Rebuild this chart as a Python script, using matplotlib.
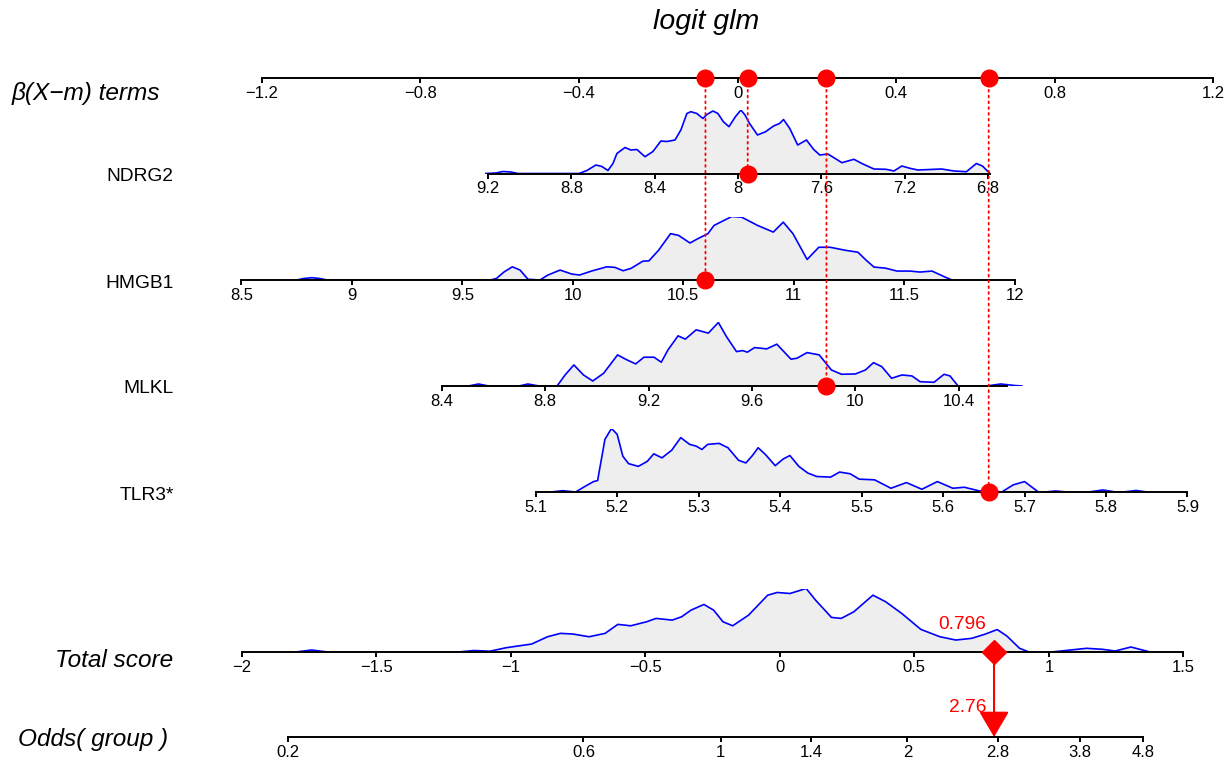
import numpy as np
import matplotlib
matplotlib.use("Agg")
import matplotlib.pyplot as plt
from matplotlib.patches import ConnectionPatch

plt.rcParams['font.family'] = ['Liberation Sans', 'DejaVu Sans']
plt.rcParams['axes.unicode_minus'] = True

# ---------------- data ----------------
title = "logit glm"
variables = ["NDRG2", "HMGB1", "MLKL", "TLR3*"]
coefs = [-0.5253, 0.5573, 0.6520, 2.0549]       # beta per unit
means = [8.002, 10.745, 9.5439, 5.3477]         # centring m
obs_values = [7.953, 10.6, 9.888, 5.656]        # observation shown
total_score = 0.796
odds_value = 2.76
intercept = 0.219

beta_ticks = [-1.2, -0.8, -0.4, 0, 0.4, 0.8, 1.2]
beta_ticklabels = ["\u22121.2", "\u22120.8", "\u22120.4", "0", "0.4", "0.8", "1.2"]

ndrg2_ticks = [9.2, 8.8, 8.4, 8.0, 7.6, 7.2, 6.8]
ndrg2_ticklabels = ["9.2", "8.8", "8.4", "8", "7.6", "7.2", "6.8"]
hmgb1_ticks = [8.5, 9, 9.5, 10, 10.5, 11, 11.5, 12]
hmgb1_ticklabels = ["8.5", "9", "9.5", "10", "10.5", "11", "11.5", "12"]
mlkl_ticks = [8.4, 8.8, 9.2, 9.6, 10.0, 10.4]
mlkl_ticklabels = ["8.4", "8.8", "9.2", "9.6", "10", "10.4"]
tlr3_ticks = [5.1, 5.2, 5.3, 5.4, 5.5, 5.6, 5.7, 5.8, 5.9]
tlr3_ticklabels = ["5.1", "5.2", "5.3", "5.4", "5.5", "5.6", "5.7", "5.8", "5.9"]

score_ticks = [-2, -1.5, -1, -0.5, 0, 0.5, 1, 1.5]
score_ticklabels = ["\u22122", "\u22121.5", "\u22121", "\u22120.5", "0", "0.5", "1", "1.5"]
odds_ticks = [0.2, 0.6, 1, 1.4, 2, 2.8, 3.8, 4.8]
odds_ticklabels = ["0.2", "0.6", "1", "1.4", "2", "2.8", "3.8", "4.8"]

axis_ranges = [(6.79, 9.2), (8.5, 12.0), (8.4, 10.586), (5.1, 5.9)]
beta_range = (-1.2, 1.2)
score_range = (-2, 1.5)
odds_range = (0.2, 4.8)

# densities (value, relative height)
ndrg2_dx = [9.21, 9.162, 9.128, 9.090, 9.056, 8.763, 8.725, 8.682, 8.653, 8.624, 8.600, 8.581,
            8.542, 8.514, 8.485, 8.446, 8.408, 8.370, 8.341, 8.302, 8.274, 8.245, 8.226, 8.197,
            8.168, 8.149, 8.120, 8.096, 8.070, 8.043, 8.012, 7.986, 7.966, 7.944, 7.906, 7.867,
            7.829, 7.800, 7.781, 7.751, 7.713, 7.671, 7.636, 7.607, 7.568, 7.539, 7.501, 7.443,
            7.405, 7.347, 7.289, 7.251, 7.213, 7.174, 7.136, 7.021, 6.963, 6.903, 6.855, 6.826, 6.790]
ndrg2_dy = [0, 0.5, 2, 1.5, 0, 0, 3, 8.5, 7, 3, 10, 20,
            26, 23.5, 24, 16.8, 22, 32.5, 32, 33.5, 43.5, 60, 61.8, 60,
            55, 59, 62.5, 60, 51.8, 46.8, 56.8, 63.5, 58.5, 50, 38.5, 41.8,
            47.5, 50, 54, 45, 28.5, 33.5, 24, 18.5, 19.5, 15.8, 10.8, 14.2,
            10, 4.5, 4.2, 2.5, 7.5, 5.2, 3.5, 4.5, 2.5, 1.8, 10, 7.5, 0]

hmgb1_dx = [8.751, 8.781, 8.819, 8.855, 8.887, 9.628, 9.655, 9.688, 9.726, 9.761, 9.797, 9.851,
            9.887, 9.942, 9.995, 10.030, 10.084, 10.154, 10.191, 10.227, 10.263, 10.317, 10.344,
            10.388, 10.442, 10.478, 10.530, 10.566, 10.611, 10.639, 10.719, 10.764, 10.836, 10.907,
            10.952, 10.996, 11.060, 11.113, 11.164, 11.232, 11.290, 11.327, 11.363, 11.413, 11.467,
            11.526, 11.571, 11.625, 11.684, 11.716]
hmgb1_dy = [0, 1.5, 2.3, 1.5, 0, 0, 1.7, 8, 13.3, 10, 0.7, 0,
            5, 10, 6, 5, 9, 13.3, 12.7, 9.3, 11.7, 19, 19.3,
            30, 46.7, 45, 37.3, 41.7, 46.7, 55, 64, 63.3, 55, 48.3,
            58.3, 46.7, 20.7, 33, 33, 30, 28, 20, 13, 12, 9,
            9, 8, 9, 3, 0]

mlkl_dx = [8.503, 8.542, 8.581, 8.699, 8.733, 8.776, 8.846, 8.877, 8.911, 8.948, 8.984, 9.026,
           9.080, 9.111, 9.150, 9.182, 9.221, 9.249, 9.275, 9.314, 9.342, 9.384, 9.431, 9.470,
           9.501, 9.540, 9.564, 9.582, 9.610, 9.657, 9.696, 9.751, 9.774, 9.813, 9.860, 9.907,
           9.946, 10.000, 10.039, 10.070, 10.102, 10.140, 10.180, 10.219, 10.250, 10.304, 10.343,
           10.366, 10.397, 10.507, 10.562, 10.616, 10.644]
mlkl_dy = [0, 2, 0, 0, 2, 0, 0, 11, 21, 11, 5, 12.7,
           31, 26.7, 22, 28.7, 28.7, 23.7, 36, 50, 46.7, 56, 52.7, 63.3,
           49.3, 34.3, 35.3, 33.7, 38.3, 37, 41.7, 26.7, 27.7, 33.3, 31, 16,
           11.7, 12, 16, 23.3, 19.3, 7.7, 11, 10, 4.3, 3.7, 11.7,
           10, 0, 0, 2, 0.5, 0]

tlr3_dx = [5.119, 5.133, 5.149, 5.160, 5.171, 5.176, 5.185, 5.193, 5.200, 5.207, 5.214, 5.226,
           5.237, 5.245, 5.255, 5.267, 5.278, 5.289, 5.297, 5.304, 5.311, 5.325, 5.336, 5.349,
           5.358, 5.366, 5.373, 5.382, 5.394, 5.404, 5.412, 5.423, 5.434, 5.445, 5.462, 5.473,
           5.486, 5.497, 5.516, 5.536, 5.555, 5.574, 5.593, 5.612, 5.626, 5.645, 5.653, 5.672,
           5.686, 5.700, 5.717, 5.725, 5.738, 5.752, 5.779, 5.796, 5.812, 5.821, 5.837, 5.850]
tlr3_dy = [0, 1.3, 0, 5.3, 10.3, 11.3, 52, 62.7, 57, 35.3, 28, 25.3,
           30.3, 37.7, 33.7, 41.3, 53.7, 47, 45.3, 42, 47, 48, 43.7, 31.3,
           28.7, 36, 43.7, 37, 26, 32.7, 36, 25.3, 18.7, 15.3, 14.7, 19.7,
           18, 12.7, 12, 3.7, 9.3, 2.7, 10.3, 3.7, 4.7, 1, 1.7, 0,
           7, 10.3, 0, 0, 1, 0, 0, 2, 0, 0, 1.5, 0]

score_dx = [-1.799, -1.740, -1.680, -1.195, -1.136, -1.077, -1.017, -0.922, -0.863, -0.815,
            -0.768, -0.709, -0.649, -0.602, -0.554, -0.495, -0.460, -0.400, -0.365, -0.330,
            -0.282, -0.246, -0.211, -0.175, -0.116, -0.045, -0.010, 0.038, 0.098, 0.133, 0.192,
            0.228, 0.275, 0.346, 0.394, 0.453, 0.524, 0.595, 0.654, 0.713, 0.761, 0.808, 0.844,
            0.891, 0.926, 1.008, 1.045, 1.140, 1.199, 1.246, 1.305, 1.376]
score_dy = [0, 2, 0, 0, 1.5, 0.8, 4.3, 8, 15.3, 18.7,
            18, 15.3, 18.7, 27.7, 26.3, 30.3, 33.7, 32, 35.3, 42,
            47.7, 42, 30.3, 26.3, 37, 57, 59.7, 58.7, 63.7, 52, 34.7,
            33.7, 40.3, 57, 50.3, 38.7, 22.7, 15.3, 12, 13.7, 17.7, 22.5, 16,
            3.7, 0, 0, 1, 3.7, 2.7, 1, 5, 0]

densities = [(ndrg2_dx, ndrg2_dy), (hmgb1_dx, hmgb1_dy), (mlkl_dx, mlkl_dy), (tlr3_dx, tlr3_dy)]
var_ticks = [(ndrg2_ticks, ndrg2_ticklabels), (hmgb1_ticks, hmgb1_ticklabels),
             (mlkl_ticks, mlkl_ticklabels), (tlr3_ticks, tlr3_ticklabels)]

# ---------------- layout (pixels) ----------------
FW, FH = 1228, 765
BETA0_PX, BETA_SCALE = 737.5, 396.5      # beta = 0 position, px per beta unit
SCORE0_PX, SCORE_SCALE = 779.8, 269.1    # total score = 0 position, px per unit
ROW_H = 63.5
y_beta = 78.3
y_vars = [173.5, 280.0, 386.0, 492.0]
y_score = 652.0
y_odds = 737.0

RED = '#FF0000'
BLUE = '#0000FF'
FILL = '#EEEEEE'
LW = 1.4
TICK_FS = 12
LABEL_FS = 17.6

fig = plt.figure(figsize=(FW / 100, FH / 100), dpi=100)


def row_axes(y_line, to_value):
    ax = fig.add_axes([0, 1 - y_line / FH, 1, ROW_H / FH])
    ax.set_xlim(to_value(0), to_value(FW))
    ax.set_ylim(0, 1)
    ax.patch.set_alpha(0)
    for s in ['top', 'left', 'right']:
        ax.spines[s].set_visible(False)
    ax.spines['bottom'].set_linewidth(LW)
    ax.tick_params(axis='x', direction='out', length=3.6, width=LW,
                   labelsize=TICK_FS, pad=2.0)
    ax.set_yticks([])
    return ax


def beta_to_value(px):
    return (px - BETA0_PX) / BETA_SCALE


def make_var_map(coef, m):
    return lambda px: m + (px - BETA0_PX) / (BETA_SCALE * coef)


def score_map(px):
    return (px - SCORE0_PX) / SCORE_SCALE


def draw_density(ax, dx, dy):
    dx = np.asarray(dx, float)
    dy = np.asarray(dy, float)
    h = dy / dy.max()
    ax.fill_between(dx, 0, h, color=FILL, lw=0, zorder=1)
    ax.plot(dx, h, color=BLUE, lw=1.2, zorder=2, solid_joinstyle='round')


# beta axis
ax_beta = row_axes(y_beta, beta_to_value)
ax_beta.set_xticks(beta_ticks)
ax_beta.set_xticklabels(beta_ticklabels)
ax_beta.spines['bottom'].set_bounds(*beta_range)

betas = [c * (v - m) for c, v, m in zip(coefs, obs_values, means)]

var_axes = []
for i, name in enumerate(variables):
    ax = row_axes(y_vars[i], make_var_map(coefs[i], means[i]))
    draw_density(ax, *densities[i])
    ticks, labels = var_ticks[i]
    ax.set_xticks(ticks)
    ax.set_xticklabels(labels)
    ax.spines['bottom'].set_bounds(*axis_ranges[i])
    ax.plot([obs_values[i]], [0], 'o', ms=12, color=RED, clip_on=False, zorder=6)
    var_axes.append(ax)
    fig.text(173.5 / FW, 1 - (y_vars[i] + 7.5) / FH, name, ha='right', va='baseline',
             fontsize=13.8)

# dotted red guide lines
for i in range(len(variables)):
    con = ConnectionPatch(xyA=(betas[i], 0), coordsA=ax_beta.transData,
                          xyB=(obs_values[i], 0), coordsB=var_axes[i].transData,
                          color=RED, lw=1.3, linestyle=(0, (1, 2.2)), zorder=3)
    fig.add_artist(con)

ax_beta.plot(betas, [0] * len(betas), 'o', ms=12, color=RED, clip_on=False, zorder=6)

# total score
ax_score = row_axes(y_score, score_map)
draw_density(ax_score, score_dx, score_dy)
ax_score.set_xticks(score_ticks)
ax_score.set_xticklabels(score_ticklabels)
ax_score.spines['bottom'].set_bounds(*score_range)
ax_score.plot([total_score], [0], 'D', ms=12.3, color=RED, clip_on=False, zorder=6)
ax_score.annotate(f"{total_score:.3f}", xy=(total_score, 0), xytext=(-5.4, 20),
                  textcoords='offset points', ha='right', va='center',
                  color=RED, fontsize=13.8, annotation_clip=False)

# odds axis (same scale as total score, shifted by intercept)
ax_odds = row_axes(y_odds, score_map)
ax_odds.set_xticks([np.log(t) - intercept for t in odds_ticks])
ax_odds.set_xticklabels(odds_ticklabels)
ax_odds.spines['bottom'].set_bounds(np.log(odds_range[0]) - intercept,
                                    np.log(odds_range[1]) - intercept)
odds_pos = np.log(odds_value) - intercept
ax_odds.annotate(f"{odds_value:.2f}", xy=(odds_pos, 0), xytext=(-5.4, 21.6),
                 textcoords='offset points', ha='right', va='center',
                 color=RED, fontsize=13.8, annotation_clip=False)

arrow = ConnectionPatch(xyA=(total_score, 0), coordsA=ax_score.transData,
                        xyB=(odds_pos, 0), coordsB=ax_odds.transData,
                        arrowstyle='-|>,head_length=0.8,head_width=0.47',
                        mutation_scale=20, color=RED, lw=1.5,
                        shrinkA=0, shrinkB=0, zorder=4)
fig.add_artist(arrow)

# labels
fig.text(706.5 / FW, 1 - 29.3 / FH, title, ha='center', va='baseline',
         fontsize=20.5, style='italic')
fig.text(12 / FW, 1 - 100 / FH, "\u03b2(X\u2212m) terms", ha='left', va='baseline',
         fontsize=LABEL_FS, style='italic')
fig.text(173.5 / FW, 1 - 666.7 / FH, "Total score", ha='right', va='baseline',
         fontsize=LABEL_FS, style='italic')
fig.text(18 / FW, 1 - 746 / FH, "Odds( group )", ha='left', va='baseline',
         fontsize=LABEL_FS, style='italic')

fig.savefig("out.png", dpi=100)
